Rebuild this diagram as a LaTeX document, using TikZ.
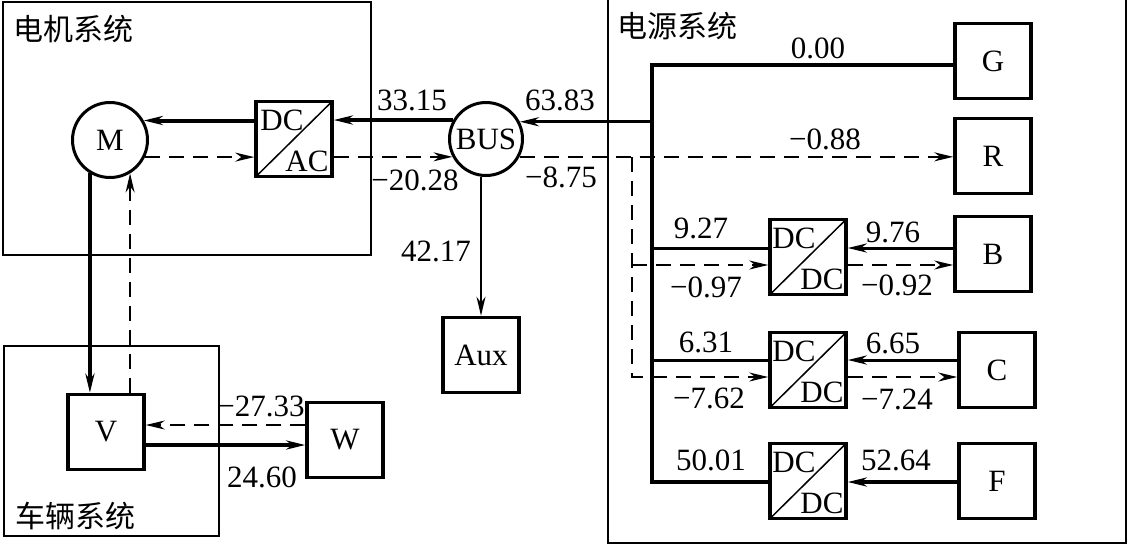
\documentclass[tikz,border=0pt]{standalone}
\usepackage{fontspec}
\setmainfont{Liberation Serif}
\newfontfamily\cjk{Noto Sans CJK SC}
\usetikzlibrary{arrows.meta}

\tikzset{
  every node/.style={font=\fontsize{31}{36}\selectfont, inner sep=0pt},
  ttl/.style={font=\cjk\fontsize{30}{36}\selectfont},
  blk/.style={draw, line width=3.5pt, minimum width=76pt, minimum height=75pt},
  conv/.style={blk, path picture={\draw[line width=1.5pt] (path picture bounding box.south west) -- (path picture bounding box.north east);}},
  rnd/.style={draw, circle, line width=3pt, minimum size=75pt},
  frm/.style={line width=1.3pt},
  pwr/.style={line width=4pt},
  mid/.style={line width=3pt},
  thn/.style={line width=2pt},
  sig/.style={line width=1.8pt, dash pattern=on 15pt off 9pt},
  tip/.style={-{Stealth[length=19pt,width=9pt,inset=6pt]}},
}

\begin{document}
\begin{tikzpicture}[x=1pt,y=-1pt]
  \useasboundingbox (0,0) rectangle (1129,547);
  % system frames
  \draw[frm] (3,2) rectangle (371,255);
  \draw[frm] (608,0) -- (608,543) -- (1126,543) -- (1126,0);
  \draw[frm] (4,346) rectangle (219,536);
  \node[ttl] (motsys) at (73,29) {电机系统};
  \node[ttl] (pwrsys) at (677,26) {电源系统};
  \node[ttl] (vehsys) at (75,516) {车辆系统};

  % blocks
  \node[rnd] (M) at (110,140) {M};
  \node[conv] (dcac) at (294,139) {};
  \node[rnd, minimum size=73pt] (bus) at (486,139) {BUS};
  \node[blk] (aux) at (481,355) {Aux};
  \node[blk] (V) at (106,432) {V};
  \node[blk] (W) at (345,440) {W};
  \node[blk] (G) at (993,61) {G};
  \node[blk] (R) at (993,156) {R};
  \node[blk] (B) at (993,254) {B};
  \node[blk] (C) at (997,370) {C};
  \node[blk] (F) at (997,481) {F};
  \node[conv] (cB) at (808,257) {};
  \node[conv] (cC) at (808,370) {};
  \node[conv] (cF) at (808,481) {};

  % converter texts
  \node[anchor=north west] (dcacT) at ([shift={(6,10)}]dcac.north west) {DC};
  \node[anchor=south east] (dcacL) at ([shift={(-5,-6)}]dcac.south east) {AC};
  \node[anchor=north west] (cBT) at ([shift={(4,10)}]cB.north west) {DC};
  \node[anchor=south east] (cBL) at ([shift={(-4,-6)}]cB.south east) {DC};
  \node[anchor=north west] (cCT) at ([shift={(4,10)}]cC.north west) {DC};
  \node[anchor=south east] (cCL) at ([shift={(-4,-6)}]cC.south east) {DC};
  \node[anchor=north west] (cFT) at ([shift={(4,10)}]cF.north west) {DC};
  \node[anchor=south east] (cFL) at ([shift={(-4,-6)}]cF.south east) {DC};

  % bus bar points
  \coordinate (bbG) at (652,65);
  \coordinate (bbBus) at (bus.27 -| 652,0);
  \coordinate (bbB) at (652,248);
  \coordinate (bbC) at (652,360);
  \coordinate (bbF) at (652,482);
  \coordinate (dj) at (bus.-28 -| 632,0);
  \coordinate (djB) at (632,265);
  \coordinate (djC) at (632,377);

  % motor side
  \draw[pwr,tip] (bus.150) -- (bus.150 -| dcac.east);
  \draw[pwr,tip] (M.30 -| dcac.west) -- (M.30);
  \draw[sig,tip] (M.-26) -- (M.-26 -| dcac.west);
  \draw[sig,tip] (bus.208 -| dcac.east) -- (bus.208);
  \draw[thn,tip] (aux.north |- bus.south) -- (aux.north);

  % vehicle side
  \draw[pwr,tip] (M.-121) -- (M.-121 |- V.north);
  \draw[sig,tip] (M.-59 |- V.north) -- (M.-59);
  \draw[sig,tip] (W.west |- 0,425) -- (V.east |- 0,425);
  \draw[pwr,tip] (V.east |- 0,445) -- (W.west |- 0,445);

  % power side
  \draw[pwr] (G.west |- bbG) -| (bbF) -- (bbF -| cF.west);
  \draw[mid,tip] (bbBus) -- (bus.27);
  \draw[sig,tip] (bus.-28) -- (bus.-28 -| R.west);
  \draw[sig,tip] (dj) |- (djC -| cC.west);
  \draw[mid] (bbB) -- (bbB -| cB.west);
  \draw[mid,tip] (B.west |- bbB) -- (bbB -| cB.east);
  \draw[sig,tip] (djB) -- (djB -| cB.west);
  \draw[sig,tip] (djB -| cB.east) -- (djB -| B.west);
  \draw[mid] (bbC) -- (bbC -| cC.west);
  \draw[mid,tip] (C.west |- bbC) -- (bbC -| cC.east);
  \draw[sig,tip] (djC -| cC.east) -- (djC -| C.west);
  \draw[pwr,tip] (F.west |- bbF) -- (bbF -| cF.east);

  % values
  \node (l3315) at (412,100) {33.15};
  \node (l2028) at (415,180) {−20.28};
  \node (l6383) at (560,100) {63.83};
  \node (l875) at (561,177) {−8.75};
  \node (l4217) at (436,251) {42.17};
  \node (l000) at (818,48) {0.00};
  \node (l088) at (825,139) {−0.88};
  \node (l927) at (701,228) {9.27};
  \node (l976) at (893,232) {9.76};
  \node (l097) at (706,287) {−0.97};
  \node (l092) at (897,285) {−0.92};
  \node (l631) at (706,342) {6.31};
  \node (l665) at (893,343) {6.65};
  \node (l762) at (709,398) {−7.62};
  \node (l724) at (897,399) {−7.24};
  \node (l5001) at (711,460) {50.01};
  \node (l5264) at (896,460) {52.64};
  \node (l2733) at (261,406) {−27.33};
  \node (l2460) at (262,477) {24.60};
\end{tikzpicture}
\end{document}
